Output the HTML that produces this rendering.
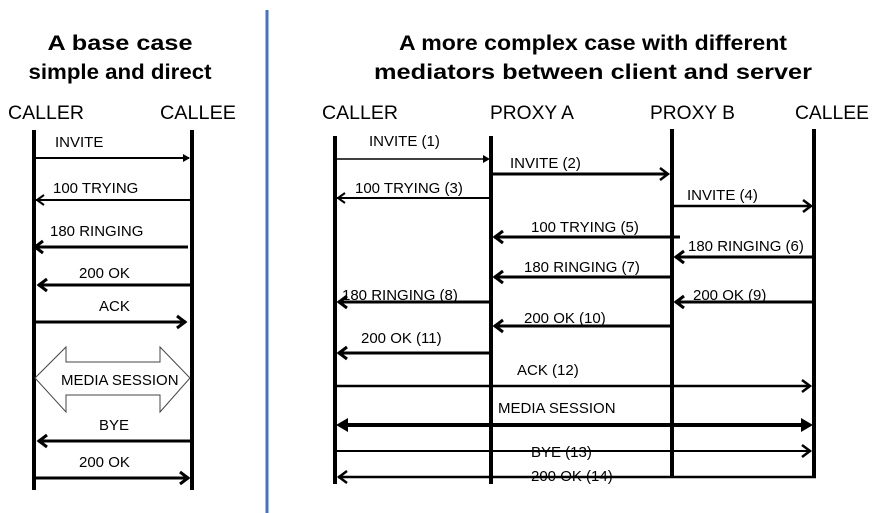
<!DOCTYPE html>
<html><head><meta charset="utf-8"><style>
html,body{margin:0;padding:0;background:#fff;}
svg{display:block;}
text{font-family:"Liberation Sans",Arial,sans-serif;fill:#000;}
.t{font-weight:bold;font-size:21px;}
.h{font-size:19px;}
.l{font-size:15px;}
</style></head><body>
<svg width="881" height="513" viewBox="0 0 881 513" xmlns="http://www.w3.org/2000/svg">
<rect width="881" height="513" fill="#fff"/>
<line x1="267" y1="10" x2="267" y2="513" stroke="#4472c4" stroke-width="3"/>
<text class="t" x="120" y="50" text-anchor="middle" textLength="145" lengthAdjust="spacingAndGlyphs">A base case</text>
<text class="t" x="120" y="79" text-anchor="middle" textLength="183" lengthAdjust="spacingAndGlyphs">simple and direct</text>
<text class="t" x="593" y="50" text-anchor="middle" textLength="388" lengthAdjust="spacingAndGlyphs">A more complex case with different</text>
<text class="t" x="593" y="79" text-anchor="middle" textLength="438" lengthAdjust="spacingAndGlyphs">mediators between client and server</text>
<g class="h">
<text x="8" y="119" textLength="76" lengthAdjust="spacingAndGlyphs">CALLER</text>
<text x="160" y="119" textLength="76" lengthAdjust="spacingAndGlyphs">CALLEE</text>
<text x="322" y="119" textLength="76" lengthAdjust="spacingAndGlyphs">CALLER</text>
<text x="490" y="119" textLength="84" lengthAdjust="spacingAndGlyphs">PROXY A</text>
<text x="650" y="119" textLength="85" lengthAdjust="spacingAndGlyphs">PROXY B</text>
<text x="795" y="119" textLength="74" lengthAdjust="spacingAndGlyphs">CALLEE</text>
</g>
<g stroke="#000" stroke-width="4">
<line x1="34" y1="130" x2="34" y2="490"/>
<line x1="192" y1="130" x2="192" y2="490"/>
<line x1="335" y1="136" x2="335" y2="484"/>
<line x1="491" y1="136" x2="491" y2="484"/>
<line x1="672" y1="129" x2="672" y2="478"/>
<line x1="814" y1="129" x2="814" y2="478"/>
</g>
<g fill="none" stroke="#000" stroke-linecap="butt">
<line x1="34" y1="158" x2="189" y2="158" stroke-width="2"/><polygon points="183,154 190,158 183,162" fill="#000" stroke="none"/>
<line x1="36" y1="200" x2="192" y2="200" stroke-width="2"/><polyline points="44,195 37,200 44,205" stroke-width="2"/>
<line x1="34" y1="247" x2="188" y2="247" stroke-width="3"/><polyline points="43,241 35,247 43,253" stroke-width="3"/>
<line x1="38" y1="285" x2="192" y2="285" stroke-width="3"/><polyline points="47,279 39,285 47,291" stroke-width="3"/>
<line x1="34" y1="322" x2="186" y2="322" stroke-width="3"/><polyline points="177,316 185,322 177,328" stroke-width="3"/>
<polygon points="35,378 66,347 66,362 160,362 160,347 190,378 160,412 160,395 66,395 66,412" stroke-width="1" stroke="#444"/>
<line x1="38" y1="441" x2="192" y2="441" stroke-width="3"/><polyline points="47,435 39,441 47,447" stroke-width="3"/>
<line x1="34" y1="478" x2="189" y2="478" stroke-width="3"/><polyline points="180,472 188,478 180,484" stroke-width="3"/>
<line x1="335" y1="159" x2="488" y2="159" stroke-width="1.5"/><polygon points="483,155 490,159 483,163" fill="#000" stroke="none"/>
<line x1="491" y1="174" x2="668" y2="174" stroke-width="3"/><polyline points="660,168 668,174 660,180" stroke-width="2.5"/>
<line x1="337" y1="198" x2="491" y2="198" stroke-width="2"/><polyline points="345,193 338,198 345,203" stroke-width="2"/>
<line x1="672" y1="206" x2="811" y2="206" stroke-width="2.5"/><polyline points="803,200 811,206 803,212" stroke-width="2.5"/>
<line x1="494" y1="237" x2="680" y2="237" stroke-width="3"/><polyline points="503,231 495,237 503,243" stroke-width="3"/>
<line x1="675" y1="257" x2="814" y2="257" stroke-width="3"/><polyline points="684,251 676,257 684,263" stroke-width="3"/>
<line x1="494" y1="277" x2="672" y2="277" stroke-width="3"/><polyline points="503,271 495,277 503,283" stroke-width="3"/>
<line x1="338" y1="302" x2="491" y2="302" stroke-width="3"/><polyline points="347,296 339,302 347,308" stroke-width="3"/>
<line x1="675" y1="302" x2="814" y2="302" stroke-width="3"/><polyline points="684,296 676,302 684,308" stroke-width="3"/>
<line x1="494" y1="326" x2="672" y2="326" stroke-width="3"/><polyline points="503,320 495,326 503,332" stroke-width="3"/>
<line x1="338" y1="353" x2="491" y2="353" stroke-width="3"/><polyline points="347,347 339,353 347,359" stroke-width="3"/>
<line x1="335" y1="386" x2="810" y2="386" stroke-width="2.5"/><polyline points="802,380 810,386 802,392" stroke-width="2.5"/>
<line x1="340" y1="425" x2="808" y2="425" stroke-width="4"/>
<polygon points="336,425 348,418 348,432" fill="#000" stroke="none"/>
<polygon points="813,425 801,418 801,432" fill="#000" stroke="none"/>
<line x1="335" y1="451" x2="810" y2="451" stroke-width="2"/><polyline points="802,445 810,451 802,457" stroke-width="2.5"/>
<line x1="338" y1="477" x2="816" y2="477" stroke-width="2.5"/><polyline points="347,471 339,477 347,483" stroke-width="2.5"/>
</g>
<g class="l">
<text x="55" y="147">INVITE</text>
<text x="53" y="193">100 TRYING</text>
<text x="50" y="236">180 RINGING</text>
<text x="79" y="278">200 OK</text>
<text x="99" y="311">ACK</text>
<text x="61" y="385">MEDIA SESSION</text>
<text x="99" y="430">BYE</text>
<text x="79" y="467">200 OK</text>
<text x="369" y="146">INVITE (1)</text>
<text x="510" y="168">INVITE (2)</text>
<text x="355" y="193">100 TRYING (3)</text>
<text x="687" y="200">INVITE (4)</text>
<text x="531" y="232">100 TRYING (5)</text>
<text x="688" y="251">180 RINGING (6)</text>
<text x="524" y="272">180 RINGING (7)</text>
<text x="342" y="300">180 RINGING (8)</text>
<text x="693" y="300">200 OK (9)</text>
<text x="524" y="323">200 OK (10)</text>
<text x="361" y="343">200 OK (11)</text>
<text x="517" y="375">ACK (12)</text>
<text x="498" y="413">MEDIA SESSION</text>
<text x="531" y="457">BYE (13)</text>
<text x="531" y="481">200 OK (14)</text>
</g>
</svg>
</body></html>
